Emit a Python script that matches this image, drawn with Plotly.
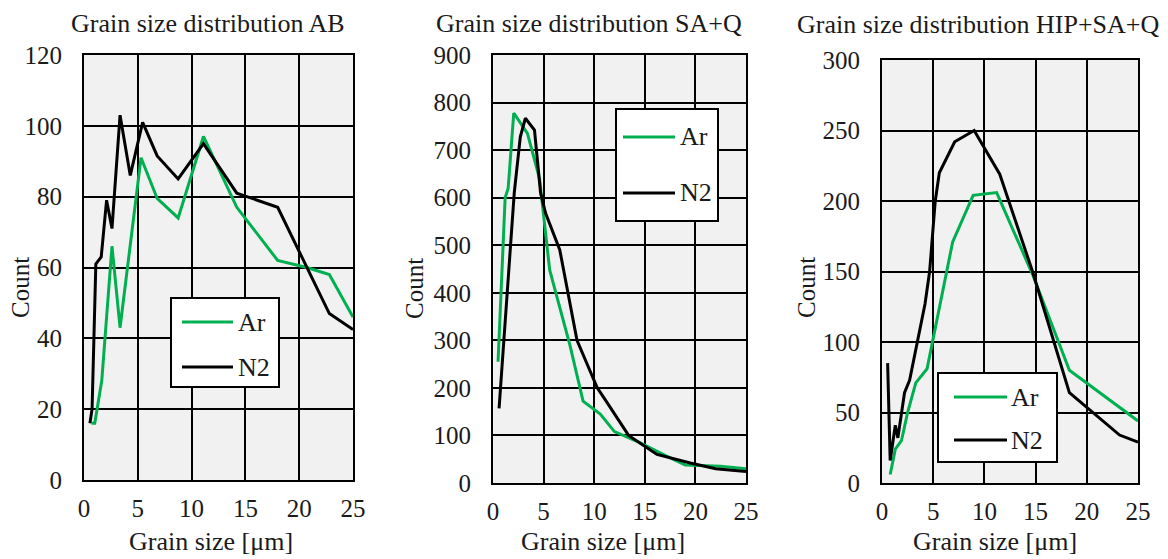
import plotly.graph_objects as go

# ---------------- data ----------------
titles = ["Grain size distribution AB", "Grain size distribution SA+Q", "Grain size distribution HIP+SA+Q"]
series_names = ["Ar", "N2"]

ab_ar_x = [0.7, 1.0, 1.65, 2.6, 3.35, 5.3, 6.8, 8.75, 11.1, 14.2, 18.0, 20.7, 22.8, 25.0]
ab_ar_y = [16, 16, 28, 66, 43, 91, 79.5, 74, 97, 77, 62, 60, 58, 46]
ab_n2_x = [0.55, 0.75, 1.1, 1.6, 2.1, 2.6, 3.35, 4.3, 5.45, 6.8, 8.75, 11.1, 14.2, 18.0, 22.8, 25.0]
ab_n2_y = [16, 20, 61, 63, 79, 71, 103, 86, 101, 91.5, 85, 95, 81, 77, 47, 42.5]

sa_ar_x = [0.5, 1.2, 1.5, 2.05, 3.4, 4.6, 5.6, 7.6, 8.9, 10.6, 12.0, 14.5, 17.0, 19.0, 20.3, 22.5, 25.0]
sa_ar_y = [255, 600, 620, 778, 735, 640, 448, 290, 172, 145, 108, 85, 58, 38, 37, 35, 30]
sa_n2_x = [0.6, 2.1, 2.7, 3.2, 4.1, 4.7, 5.2, 6.6, 8.3, 10.3, 11.0, 13.4, 16.2, 19.5, 22.0, 25.0]
sa_n2_y = [157, 610, 728, 767, 742, 610, 567, 490, 300, 200, 178, 100, 60, 42, 30, 24]

hip_ar_x = [0.8, 1.3, 1.9, 2.5, 3.3, 4.4, 6.9, 8.9, 11.2, 14.7, 18.3, 25.0]
hip_ar_y = [6, 24, 30, 50, 71, 81, 171, 204, 206, 148, 80, 44]
hip_n2_x = [0.55, 0.8, 1.3, 1.55, 2.2, 2.7, 4.2, 4.65, 5.2, 5.6, 7.1, 9.0, 11.5, 14.7, 18.3, 20.3, 23.2, 25.0]
hip_n2_y = [85, 16, 41, 32, 64, 73, 127, 150, 200, 220, 242, 250, 219, 150, 64, 52, 34, 29]

x_ticks = [0, 5, 10, 15, 20, 25]
ab_y_ticks = [0, 20, 40, 60, 80, 100, 120]
sa_y_ticks = [0, 100, 200, 300, 400, 500, 600, 700, 800, 900]
hip_y_ticks = [0, 50, 100, 150, 200, 250, 300]

# ---------------- styling ----------------
W, H = 1168, 559
FONT = "Liberation Serif"
GREEN = "#00b050"
BLACK = "#000000"
TXT = "#1a1a1a"
FS = 25
FT = 26

def px(x):
    return x / W

def py(y):
    return 1 - y / H

panels = [
    dict(ar=(ab_ar_x, ab_ar_y), n2=(ab_n2_x, ab_n2_y), yt=ab_y_ticks,
         dom_x=(84, 353), dom_y=(55, 480), title=(208, 23), xt=(211, 541), yl=(20, 288),
         leg=dict(box=(171, 298, 279, 387), line=(182, 233), rows=(322, 367), tx=236)),
    dict(ar=(sa_ar_x, sa_ar_y), n2=(sa_n2_x, sa_n2_y), yt=sa_y_ticks,
         dom_x=(493, 746), dom_y=(55, 483), title=(589, 23), xt=(603, 541), yl=(414, 288),
         leg=dict(box=(616, 109, 718, 221), line=(623, 675), rows=(137, 193), tx=678)),
    dict(ar=(hip_ar_x, hip_ar_y), n2=(hip_n2_x, hip_n2_y), yt=hip_y_ticks,
         dom_x=(882, 1138), dom_y=(60, 483), title=(978, 25), xt=(995, 541), yl=(806, 288),
         leg=dict(box=(938, 373, 1057, 462), line=(954, 1007), rows=(397, 440), tx=1009)),
]

fig = go.Figure()
shapes = []
annotations = []

for i, p in enumerate(panels):
    n = "" if i == 0 else str(i + 1)
    xa, ya = "x" + n, "y" + n
    fig.add_trace(go.Scatter(x=p["ar"][0], y=p["ar"][1], mode="lines", name=series_names[0],
                             line=dict(color=GREEN, width=3), xaxis=xa, yaxis=ya, showlegend=False))
    fig.add_trace(go.Scatter(x=p["n2"][0], y=p["n2"][1], mode="lines", name=series_names[1],
                             line=dict(color=BLACK, width=3), xaxis=xa, yaxis=ya, showlegend=False))
    axis_common = dict(showline=True, mirror=True, linecolor=BLACK, linewidth=2,
                       showgrid=True, gridcolor=BLACK, gridwidth=2, zeroline=False,
                       tickfont=dict(family=FONT, size=FS, color=TXT),
                       ticks="", fixedrange=True, automargin=False)
    fig.update_layout(**{
        "xaxis" + n: dict(axis_common, domain=[px(p["dom_x"][0]), px(p["dom_x"][1])],
                          range=[0, 25], tickvals=x_ticks, anchor=ya, ticklabelstandoff=5),
        "yaxis" + n: dict(axis_common, domain=[py(p["dom_y"][1]), py(p["dom_y"][0])],
                          range=[p["yt"][0], p["yt"][-1]], tickvals=p["yt"], anchor=xa,
                          ticklabelstandoff=15),
    })
    annotations.append(dict(text=titles[i], x=px(p["title"][0]), y=py(p["title"][1]),
                            xref="paper", yref="paper", showarrow=False,
                            xanchor="center", yanchor="middle",
                            font=dict(family=FONT, size=FT, color=TXT)))
    annotations.append(dict(text="Grain size [μm]", x=px(p["xt"][0]), y=py(p["xt"][1]),
                            xref="paper", yref="paper", showarrow=False,
                            xanchor="center", yanchor="middle",
                            font=dict(family=FONT, size=FT, color=TXT)))
    annotations.append(dict(text="Count", x=px(p["yl"][0]), y=py(p["yl"][1]),
                            xref="paper", yref="paper", showarrow=False, textangle=-90,
                            xanchor="center", yanchor="middle",
                            font=dict(family=FONT, size=FS, color=TXT)))
    # legend box
    lg = p["leg"]
    x0, y0, x1, y1 = lg["box"]
    shapes.append(dict(type="rect", xref="paper", yref="paper", x0=px(x0), x1=px(x1),
                       y0=py(y1), y1=py(y0), fillcolor="white",
                       line=dict(color=BLACK, width=2), layer="above"))
    for name, col, ry in zip(series_names, (GREEN, BLACK), lg["rows"]):
        shapes.append(dict(type="line", xref="paper", yref="paper",
                           x0=px(lg["line"][0]), x1=px(lg["line"][1]), y0=py(ry), y1=py(ry),
                           line=dict(color=col, width=3), layer="above"))
        annotations.append(dict(text=name, x=px(lg["tx"]), y=py(ry), xref="paper", yref="paper",
                                showarrow=False, xanchor="left", yanchor="middle",
                                font=dict(family=FONT, size=FT, color=TXT)))

fig.update_layout(width=W, height=H, margin=dict(l=0, r=0, t=0, b=0, autoexpand=False),
                  paper_bgcolor="white", plot_bgcolor="#f1f1f1",
                  shapes=shapes, annotations=annotations, showlegend=False)

fig.write_html("out.html")
